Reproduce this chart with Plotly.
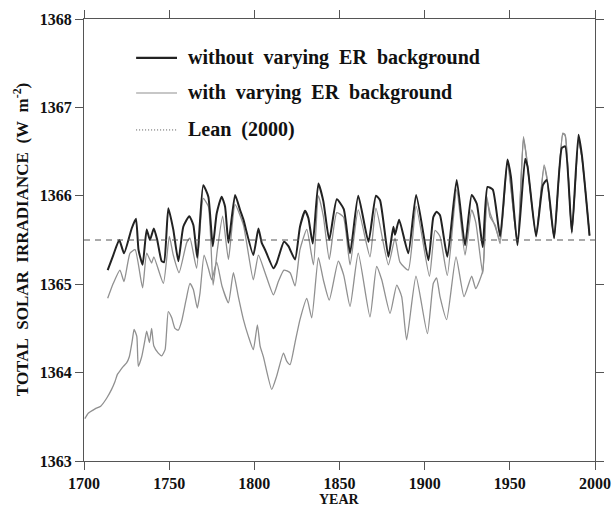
import plotly.graph_objects as go

# ---- data ----
years_without = [1713.9, 1717.2, 1720.7, 1723.5, 1728, 1730.5, 1732, 1734.4, 1736.8, 1738.7, 1741, 1743,
                 1745.6, 1747, 1749.5, 1752.4, 1755.4, 1758.3, 1761.8, 1764.2, 1766.5, 1770, 1773, 1775.6,
                 1777.9, 1780.8, 1782.8, 1784.8, 1788.7, 1791.6, 1793.6, 1799.4, 1802.4, 1804.3, 1806.3,
                 1811.2, 1813.1, 1817.4, 1820, 1823.9, 1826.8, 1829.8, 1831.7, 1834.3, 1837.6, 1840.5, 1844,
                 1848.4, 1852.5, 1856.2, 1861, 1867, 1871.4, 1873.8, 1878.7, 1881.6, 1882.6, 1885, 1890.4,
                 1895, 1902.2, 1905.1, 1907, 1909, 1913.3, 1918.8, 1923.7, 1927.6, 1930.6, 1934.1, 1936.9,
                 1940, 1944.3, 1948.6, 1950.6, 1954.5, 1959, 1960.4, 1965.4, 1969.4, 1971.7, 1976, 1980.5,
                 1982.5, 1986.4, 1990.3, 1992.3, 1996.8]
tsi_without = [1365.16, 1365.33, 1365.50, 1365.35, 1365.63, 1365.74, 1365.39, 1365.22, 1365.62, 1365.50,
               1365.63, 1365.50, 1365.26, 1365.25, 1365.86, 1365.62, 1365.26, 1365.65, 1365.77, 1365.67,
               1365.30, 1366.12, 1365.99, 1365.43, 1365.80, 1365.99, 1365.88, 1365.47, 1366.01, 1365.84,
               1365.73, 1365.33, 1365.63, 1365.47, 1365.39, 1365.18, 1365.24, 1365.48, 1365.43, 1365.28,
               1365.65, 1365.83, 1365.75, 1365.46, 1366.14, 1365.94, 1365.50, 1365.96, 1365.85, 1365.35,
               1366.00, 1365.48, 1366.00, 1365.95, 1365.31, 1365.65, 1365.56, 1365.73, 1365.35, 1366.01,
               1365.27, 1365.76, 1365.82, 1365.78, 1365.31, 1366.18, 1365.44, 1366.01, 1365.91, 1365.42,
               1366.10, 1366.07, 1365.54, 1366.41, 1366.22, 1365.44, 1366.42, 1366.33, 1365.54, 1366.12,
               1366.18, 1365.52, 1366.54, 1366.56, 1365.59, 1366.69, 1366.46, 1365.55]

years_with = [1713.9, 1717.2, 1721.1, 1723.5, 1727, 1730, 1734.4, 1736.8, 1739.7, 1741, 1746.6, 1750.1,
              1752.4, 1755.8, 1760.3, 1762.2, 1766.1, 1770, 1773, 1775.8, 1778.3, 1781.4, 1784.8, 1788.7,
              1793.6, 1799.4, 1802.4, 1806.3, 1811.2, 1814.1, 1817.4, 1821, 1823.9, 1826.8, 1830.8, 1834.7,
              1837.6, 1840.5, 1844, 1848.4, 1852.3, 1856.2, 1861, 1867.9, 1871.4, 1878.7, 1882.6, 1885.5,
              1890.4, 1895, 1902.8, 1906.1, 1909, 1913.3, 1918.8, 1923.7, 1927.6, 1930, 1934.1, 1936.5,
              1938.4, 1941.4, 1944.3, 1948.6, 1954.5, 1958, 1960, 1965.4, 1970.1, 1971.7, 1976, 1981.1,
              1982.5, 1986.4, 1990.3, 1992.3, 1996.8]
tsi_with = [1364.84, 1365.01, 1365.16, 1365.03, 1365.35, 1365.39, 1364.96, 1365.35, 1365.24, 1365.31,
            1365.01, 1365.54, 1365.33, 1365.13, 1365.47, 1365.52, 1365.18, 1365.97, 1365.88, 1364.99,
            1365.39, 1365.77, 1365.28, 1365.90, 1365.67, 1365.05, 1365.33, 1365.13, 1364.88, 1365.03,
            1365.16, 1365.13, 1364.98, 1365.39, 1365.62, 1365.22, 1366.00, 1365.77, 1365.28, 1365.81,
            1365.76, 1365.22, 1365.84, 1365.31, 1365.86, 1365.22, 1365.52, 1365.25, 1365.16, 1365.88,
            1365.09, 1365.61, 1365.54, 1365.10, 1366.07, 1365.33, 1365.84, 1365.70, 1365.12, 1365.99,
            1365.76, 1365.67, 1365.46, 1366.37, 1365.46, 1366.67, 1366.41, 1365.56, 1366.35, 1366.22,
            1365.52, 1366.71, 1366.69, 1365.58, 1366.63, 1366.44, 1365.55]

years_lean = [1700.5, 1702.5, 1706.5, 1709.8, 1713.3, 1716.2, 1718.2, 1719.6, 1721.5, 1723.1, 1725, 1726.6,
              1728.4, 1729.4, 1731, 1731.9, 1733.9, 1735.8, 1736.8, 1738.4, 1739.7, 1741, 1743.6, 1745.6,
              1747.6, 1749.5, 1751.5, 1753.4, 1755.4, 1757.3, 1759.9, 1762.2, 1764.2, 1766.5, 1768.1,
              1770.5, 1773, 1775, 1777.9, 1781, 1784.8, 1787.7, 1790.6, 1793.6, 1796.5, 1799.4, 1801.8,
              1803.4, 1805.3, 1810.2, 1813.1, 1817.1, 1819, 1821, 1823.9, 1826.8, 1830.8, 1833.7, 1837.6,
              1840.5, 1844, 1849.3, 1852.5, 1856.2, 1861, 1867.9, 1871.8, 1874.8, 1879.7, 1883.6, 1886.5,
              1889.4, 1894.9, 1901.6, 1905.1, 1907, 1909, 1912.9, 1918.4, 1923.1, 1927.6, 1930, 1934.1,
              1936.5, 1938.5, 1941.4, 1944.3, 1948.6, 1954.5, 1958, 1960, 1965.4, 1970.1, 1971.7, 1976,
              1981.1, 1982.5, 1986.4, 1990.3, 1992.3, 1996.8]
tsi_lean = [1363.48, 1363.54, 1363.59, 1363.62, 1363.71, 1363.81, 1363.90, 1363.98, 1364.03, 1364.07,
            1364.11, 1364.18, 1364.37, 1364.49, 1364.41, 1364.07, 1364.18, 1364.37, 1364.47, 1364.34,
            1364.50, 1364.30, 1364.22, 1364.19, 1364.26, 1364.69, 1364.62, 1364.50, 1364.48, 1364.58,
            1364.82, 1365.01, 1364.94, 1364.73, 1364.90, 1365.33, 1365.18, 1365.05, 1365.25, 1364.98,
            1364.79, 1365.13, 1364.86, 1364.60, 1364.41, 1364.26, 1364.54, 1364.30, 1364.18, 1363.81,
            1363.96, 1364.22, 1364.13, 1364.09, 1364.34, 1364.60, 1364.84, 1364.62, 1365.30, 1365.05,
            1364.82, 1365.26, 1365.10, 1364.75, 1365.35, 1364.63, 1365.20, 1365.05, 1364.67, 1364.99,
            1364.86, 1364.37, 1365.09, 1364.44, 1365.01, 1365.07, 1364.86, 1364.60, 1365.31, 1364.86,
            1365.09, 1364.95, 1365.15, 1365.95, 1365.80, 1365.65, 1365.50, 1366.40, 1365.45, 1366.65,
            1366.40, 1365.55, 1366.33, 1366.20, 1365.53, 1366.70, 1366.68, 1365.57, 1366.62, 1366.44,
            1365.55]

baseline = 1365.5
x_ticks = [1700, 1750, 1800, 1850, 1900, 1950, 2000]
y_ticks = [1363, 1364, 1365, 1366, 1367, 1368]
legend_labels = ["without\u00a0 varying\u00a0 ER\u00a0 background",
                 "with\u00a0 varying\u00a0 ER\u00a0 background",
                 "Lean\u00a0 (2000)"]

FONT = "Times New Roman, Liberation Serif, serif"
BLACK = "#222222"
GRAY = "#909090"
AXIS = "#555555"

fig = go.Figure()
fig.add_trace(go.Scatter(x=years_lean, y=tsi_lean, mode="lines", name=legend_labels[2],
                         line=dict(color=GRAY, width=1.3, shape="spline", smoothing=0.5),
                         showlegend=False))
fig.add_trace(go.Scatter(x=years_with, y=tsi_with, mode="lines", name=legend_labels[1],
                         line=dict(color=GRAY, width=1.3, shape="spline", smoothing=0.5),
                         showlegend=False))
fig.add_trace(go.Scatter(x=years_without, y=tsi_without, mode="lines", name=legend_labels[0],
                         line=dict(color=BLACK, width=2, shape="spline", smoothing=0.5),
                         showlegend=False))

fig.add_hline(y=baseline, line=dict(color=AXIS, width=1, dash="6px,5px"))

# manual legend (paper coordinates)
leg_rows = [0.912, 0.8326, 0.749]
leg_styles = [dict(color=BLACK, width=2.4), dict(color=GRAY, width=1.2),
              dict(color=AXIS, width=1, dash="1px,2px")]
for yy, st, lab in zip(leg_rows, leg_styles, legend_labels):
    fig.add_shape(type="line", xref="paper", yref="paper", x0=0.102, x1=0.182, y0=yy, y1=yy, line=st)
    fig.add_annotation(xref="paper", yref="paper", x=0.2, y=yy, text=lab, showarrow=False,
                       xanchor="left", yanchor="middle",
                       font=dict(family=FONT, size=20, color="#111", weight="bold"))

fig.add_annotation(xref="paper", yref="paper", x=-0.123, y=0.5,
                   text="TOTAL\u00a0 SOLAR\u00a0 IRRADIANCE\u00a0 (W\u00a0 m<sup>-2</sup>)",
                   textangle=-90, showarrow=False, xanchor="center", yanchor="middle",
                   font=dict(family=FONT, size=17, color="#111", weight="bold"))
fig.add_annotation(xref="paper", yref="paper", x=0.5, y=-0.088, text="YEAR", showarrow=False,
                   xanchor="center", yanchor="middle",
                   font=dict(family=FONT, size=14, color="#111", weight="bold"))

axis_common = dict(showline=True, linecolor=AXIS, linewidth=1, mirror="ticks", ticks="outside",
                   ticklen=8, tickcolor=AXIS, tickwidth=1, showgrid=False, zeroline=False,
                   automargin=False,
                   tickfont=dict(family=FONT, size=16, color="#111", weight="bold"))
fig.update_xaxes(range=[1700, 2000], tickvals=x_ticks, **axis_common)
fig.update_yaxes(range=[1363, 1368], tickvals=y_ticks, **axis_common)

fig.update_layout(width=612, height=508, margin=dict(l=84, r=17, t=19, b=47),
                  plot_bgcolor="white", paper_bgcolor="white", showlegend=False)

# remove the browser's default page margin so the 612x508 figure fills the window exactly
fig.write_html("out.html", config={"displayModeBar": False},
               post_script="document.body.style.margin='0';document.body.style.overflow='hidden';")
